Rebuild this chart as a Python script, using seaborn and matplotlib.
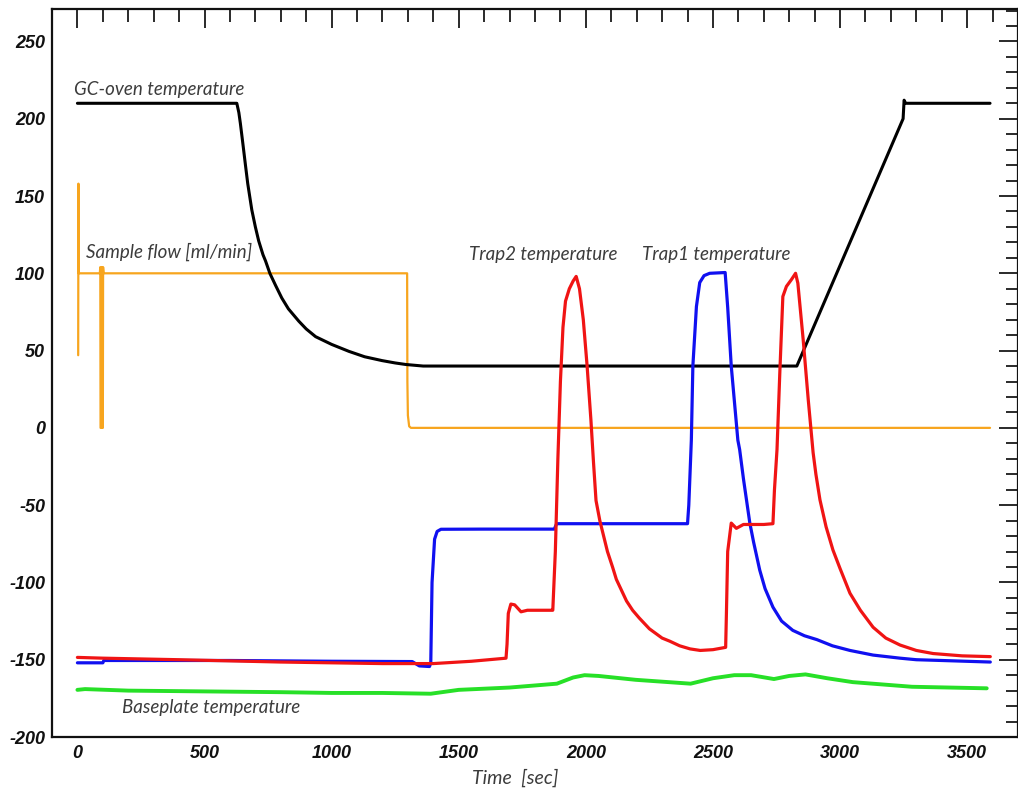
import matplotlib
matplotlib.use("Agg")
import matplotlib.pyplot as plt
import seaborn as sns

# ---- recorded traces (time in s, value in degC or ml/min) ----
oven_t = [0, 627, 635, 641, 650, 661, 670, 686, 700, 713, 730, 740, 757, 780, 804, 830, 871,
          900, 937, 1000, 1068, 1130, 1199, 1250, 1292, 1360,
          2830, 3248, 3252, 3258, 3590]
oven_v = [210, 210, 204, 197, 185, 170, 158, 141, 130, 121, 112, 108, 100, 92, 84, 77, 69,
          64, 59, 54, 49.5, 46, 43.5, 42, 41, 40,
          40, 200, 212, 210, 210]

flow_t = [3, 4, 5, 88, 90, 91, 95, 96, 97, 100, 101, 103, 1297, 1298, 1300, 1305, 1312, 3590]
flow_v = [47, 158, 100, 100, 104, 0, 0, 104, 0, 0, 104, 100, 100, 30, 8, 1, 0, 0]

trap1_t = [0, 100, 104, 300, 600, 1000, 1317, 1345, 1385, 1390, 1395, 1405, 1415, 1430,
           1600, 1876, 1885, 2000, 2200, 2400, 2405, 2415, 2421, 2435, 2448, 2465, 2487,
           2548, 2558, 2572, 2598, 2605, 2620, 2645, 2660, 2684, 2705, 2736, 2770, 2814,
           2860, 2909, 2970, 3039, 3130, 3236, 3300, 3400, 3591]
trap1_v = [-152, -152, -150.5, -150.5, -150.5, -151, -151.2, -154, -154.4, -152, -100, -72,
           -67, -65.6, -65.5, -65.5, -62, -62, -62, -62, -50, -8, 40, 78.5, 94, 98.5, 100,
           100.5, 78, 40, -8, -14, -33, -61.5, -74, -92, -104, -116, -125, -131,
           -134.5, -137, -141, -144, -147, -149, -150, -150.5, -151.5]

trap2_t = [0, 100, 400, 800, 1000, 1200, 1400, 1550, 1686, 1690, 1695, 1705, 1720, 1745,
           1770, 1868, 1870, 1880, 1890, 1900, 1910, 1920, 1935, 1950, 1962, 1975, 1990,
           2005, 2020, 2030, 2040, 2055, 2070, 2085, 2105, 2120, 2140, 2160, 2184, 2210,
           2250, 2300, 2330, 2369, 2410, 2450, 2500, 2550,
           2553, 2558, 2572, 2592, 2620, 2700, 2736, 2742, 2752, 2763, 2775, 2789, 2809,
           2825, 2834, 2855, 2875, 2894, 2905, 2921, 2945, 2972, 3000, 3039, 3080, 3130,
           3180, 3236, 3300, 3366, 3480, 3591]
trap2_v = [-148.5, -149, -150, -151.5, -152, -152.5, -152.5, -151, -149, -140, -120, -114,
           -114.5, -119, -118, -118, -118, -80, -20, 30, 65, 82, 90, 95, 98, 90, 70,
           40, 5, -22, -47, -60, -70, -80, -90, -98, -105, -112, -118, -123,
           -130, -136, -138, -141, -143, -144, -143.5, -142,
           -120, -80, -61.6, -65, -62.5, -62.5, -62, -40, -14, 35.6, 85, 91.5, 96,
           100, 93.6, 57, 18, -16, -30, -46.6, -64, -79, -91, -107, -118, -129,
           -136, -140.5, -144, -146, -147.5, -148]

base_t = [0, 30, 200, 500, 800, 1000, 1200, 1390, 1500, 1700, 1886, 1950, 1995, 2050, 2196,
          2412, 2500, 2584, 2650, 2740, 2800, 2864, 2950, 3050, 3283, 3577]
base_v = [-169.5, -169, -170, -170.5, -171, -171.5, -171.5, -172, -169.5, -168, -165.5,
          -161.5, -160, -160.5, -163, -165.5, -162, -160, -160, -162.5, -160.5, -159.5,
          -162, -164.5, -167.5, -168.5]

x_ticks = [0, 500, 1000, 1500, 2000, 2500, 3000, 3500]
y_ticks = [-200, -150, -100, -50, 0, 50, 100, 150, 200, 250]

sns.set_style("white")
plt.rcParams["font.family"] = ["Lato", "DejaVu Sans"]

fig = plt.figure(figsize=(10.18, 7.94), dpi=100)
ax = fig.add_axes([52 / 1018, 57 / 794, 966 / 1018, 728 / 794])

series = [
    (flow_t, flow_v, "#f7a51e", 1.6),
    (oven_t, oven_v, "#000000", 2.2),
    (base_t, base_v, "#27e027", 2.8),
    (trap1_t, trap1_v, "#1010f0", 2.3),
    (trap2_t, trap2_v, "#f01414", 2.3),
]
for t, v, c, lw in series:
    sns.lineplot(x=t, y=v, ax=ax, color=c, lw=lw, estimator=None, sort=False)

ax.set_xlim(-100, 3700)
ax.set_ylim(-200, 271)

tick_font = dict(fontfamily="Liberation Sans", fontweight="bold", fontstyle="italic",
                 fontsize=13, color="#111111")
ax.set_xticks(x_ticks, labels=[str(v) for v in x_ticks], **tick_font)
ax.set_yticks(y_ticks, labels=[str(v) for v in y_ticks], **tick_font)
ax.set_xticks(range(-100, 3701, 100), minor=True)
ax.set_yticks(range(-200, 271, 10), minor=True)
ax.tick_params(which="both", direction="in", top=True, right=True,
               color="#2a2a2a", width=1.4)
ax.tick_params(which="major", length=14)
ax.tick_params(which="minor", length=9)
ax.tick_params(axis="y", which="major", pad=5)
ax.tick_params(axis="x", which="major", pad=6)

for s in ax.spines.values():
    s.set_linewidth(1.6)
    s.set_color("#111111")

label_font = dict(fontstyle="italic", fontsize=13.5, color="#3c3c3c", va="center", ha="left")
ax.text(-12, 219, "GC-oven temperature", **label_font)
ax.text(32, 114, "Sample flow [ml/min]", **label_font)
ax.text(1541, 112, "Trap2 temperature", **label_font)
ax.text(2219, 112, "Trap1 temperature", **label_font)
ax.text(177, -180.6, "Baseplate temperature", **label_font)

ax.set_xlabel("Time  [sec]", fontstyle="italic", fontsize=14, color="#3c3c3c")
ax.xaxis.set_label_coords(0.48, -0.044)
ax.set_ylabel("")

fig.savefig("out.png", dpi=100)
